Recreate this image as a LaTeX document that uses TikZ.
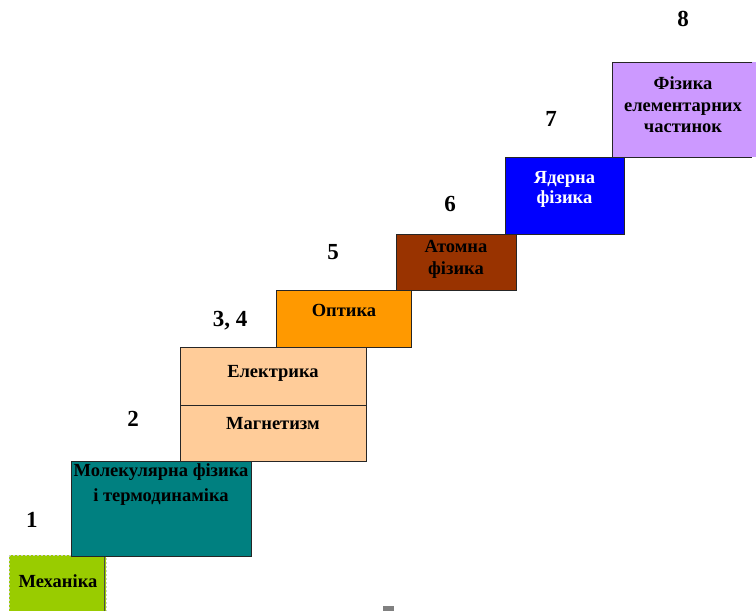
\documentclass[tikz,border=0pt]{standalone}
\usepackage{fontspec}
\setmainfont{Liberation Serif}
\definecolor{mechgreen}{HTML}{99CC00}
\definecolor{molteal}{HTML}{008080}
\definecolor{peach}{HTML}{FFCC99}
\definecolor{optorange}{HTML}{FF9900}
\definecolor{atombrown}{HTML}{993300}
\definecolor{nucblue}{HTML}{0000FF}
\definecolor{partlilac}{HTML}{CC99FF}
\tikzset{
  stair/.style={draw=black!85, line width=0.8pt},
  lbl/.style={font=\bfseries\fontsize{18.5}{21.5}\selectfont, align=center, inner sep=0pt},
  num/.style={font=\bfseries\fontsize{23}{26}\selectfont, inner sep=0pt},
}
\begin{document}
\begin{tikzpicture}[x=1pt, y=-1pt]
\useasboundingbox (0,0) rectangle (756,611);
\begin{scope}
\clip (0,0) rectangle (756,611);
% steps of the staircase, bottom to top
\fill[mechgreen] (9,555) rectangle (106,620);
\draw[white!60!gray, line width=1pt, dash pattern=on 2pt off 2pt] (9,555) -- (106,555) -- (106,620);
\draw[white!60!gray, line width=1pt, dash pattern=on 2pt off 2pt] (9,555) -- (9,620);
\draw[black!70, line width=0.6pt] (104,557) -- (104,620);
\node[lbl] (mech) at (58,581) {Механіка};

\draw[stair, fill=molteal] (71,461) rectangle (251,556);
\node[lbl, font=\bfseries\fontsize{18.5}{25}\selectfont] (mol) at (161,485) {Молекулярна фізика\\і термодинаміка};

\draw[stair, fill=peach] (180,347) rectangle (366,461);
\draw[stair] (180,405) -- (366,405);
\node[lbl] (el) at (273,373) {Електрика};
\node[lbl] (mag) at (273,424) {Магнетизм};

\draw[stair, fill=optorange] (276,290) rectangle (411,347);
\node[lbl] (opt) at (344,310.5) {Оптика};

\draw[stair, fill=atombrown] (396,234) rectangle (516,290);
\node[lbl] (atom) at (456,259.5) {Атомна\\фізика};

\draw[stair, fill=nucblue] (505,157) rectangle (624,234);
\node[lbl, text=white, font=\bfseries\fontsize{18.5}{20.5}\selectfont] (nuc) at (564.5,189.5) {Ядерна\\фізика};

\fill[partlilac] (612,62) rectangle (770,157);
\draw[stair] (752,62) -- (612,62) -- (612,157) -- (752,157);
\node[lbl] (part) at (683,105) {Фізика\\елементарних\\частинок};

% step numbers
\node[num] (n1) at (32,519.5) {1};
\node[num] (n2) at (133,418.5) {2};
\node[num] (n34) at (230,320.5) {3, 4};
\node[num] (n5) at (333,252.5) {5};
\node[num] (n6) at (450,203.5) {6};
\node[num] (n7) at (551,118.5) {7};
\node[num] (n8) at (683,18.5) {8};

% small marker at the bottom edge
\fill[gray] (383,606) rectangle (394,611);
\end{scope}
\end{tikzpicture}
\end{document}
